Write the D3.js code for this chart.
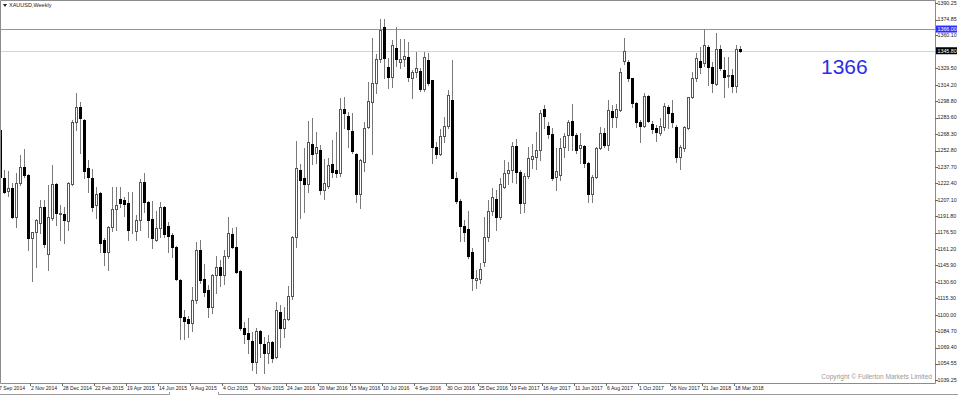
<!DOCTYPE html>
<html>
<head>
<meta charset="utf-8">
<script src="https://cdn.jsdelivr.net/npm/d3@7"></script>
<style>
html, body { margin: 0; padding: 0; background: #fff; overflow: hidden; }
svg { display: block; font-family: "Liberation Sans", Arial, sans-serif; }
</style>
</head>
<body>
<div id="chart"></div>
<script>
// XAUUSD weekly candles, first bar = week of 7 Sep 2014
const firstWeek = "2014-09-07";

const opens = [
  1272,1227,1215,1218,1191,1223,1238,1230,1171,1177,
  1185,1200,1157,1190,1222,1194,1194,1187,1222,1279,
  1293,1281,1237,1227,1202,1213,1170,1158,1182,1198,
  1208,1207,1204,1179,1178,1188,1224,1205,1189,1170,
  1181,1200,1183,1174,1163,1132,1098,1096,1092,1114,
  1160,1133,1123,1107,1137,1144,1137,1155,1175,1163,
  1141,1088,1083,1076,1056,1085,1073,1064,1075,1061,
  1103,1088,1096,1117,1172,1235,1227,1222,1259,1251,
  1253,1216,1220,1240,1235,1232,1292,1285,1271,1250,
  1212,1242,1275,1298,1316,1338,1368,1331,1321,1348,
  1335,1338,1340,1320,1326,1327,1310,1337,1319,1256,
  1250,1266,1276,1300,1227,1206,1183,1180,1158,1132,
  1133,1149,1172,1197,1208,1191,1219,1232,1235,1257,
  1233,1204,1229,1245,1247,1253,1292,1276,1268,1228,
  1230,1256,1267,1280,1267,1255,1257,1241,1212,1228,
  1255,1269,1258,1290,1284,1291,1336,1335,1320,1297,
  1279,1276,1304,1278,1274,1269,1275,1293,1288,1275,
  1247,1255,1274,1303,1320,1336,1334,1349,1331,1315,
  1347,1328,1322,1323,1313,1347
];
const highs = [
  1275,1235,1234,1223,1232,1249,1254,1231,1177,1189,
  1207,1207,1221,1239,1223,1202,1200,1224,1281,1306,
  1298,1282,1244,1236,1219,1214,1171,1183,1219,1219,
  1219,1210,1214,1214,1193,1226,1232,1206,1206,1197,
  1205,1201,1186,1176,1164,1133,1104,1099,1126,1168,
  1170,1147,1128,1138,1155,1151,1160,1191,1181,1182,
  1142,1093,1097,1084,1088,1086,1079,1081,1076,1112,
  1109,1107,1127,1173,1262,1240,1255,1280,1283,1270,
  1258,1245,1246,1263,1270,1302,1303,1289,1288,1251,
  1245,1279,1317,1358,1343,1375,1375,1339,1356,1368,
  1357,1357,1354,1328,1345,1330,1345,1344,1319,1261,
  1273,1284,1309,1337,1233,1208,1188,1197,1162,1142,
  1148,1191,1207,1218,1216,1227,1244,1242,1261,1264,
  1235,1232,1256,1259,1270,1291,1295,1279,1274,1255,
  1265,1269,1281,1296,1269,1269,1258,1242,1230,1256,
  1275,1274,1300,1295,1296,1330,1358,1337,1320,1298,
  1281,1306,1305,1280,1277,1283,1297,1295,1300,1277,
  1258,1276,1303,1326,1344,1349,1366,1351,1335,1362,
  1351,1340,1340,1329,1351,1350
];
const lows = [
  1227,1213,1211,1190,1182,1221,1228,1160,1131,1144,
  1176,1163,1142,1188,1184,1170,1167,1179,1221,1272,
  1251,1227,1214,1197,1190,1158,1146,1142,1178,1179,
  1200,1192,1170,1176,1170,1179,1196,1172,1162,1169,
  1172,1172,1158,1154,1132,1077,1077,1079,1085,1111,
  1130,1117,1098,1102,1120,1127,1129,1153,1162,1139,
  1086,1074,1064,1049,1046,1061,1046,1055,1056,1060,
  1070,1079,1095,1115,1163,1190,1196,1214,1240,1241,
  1212,1208,1218,1228,1228,1229,1274,1256,1251,1205,
  1199,1234,1274,1250,1306,1335,1320,1311,1312,1332,
  1330,1332,1318,1302,1321,1308,1308,1314,1241,1246,
  1249,1261,1274,1227,1204,1169,1169,1153,1123,1125,
  1130,1145,1169,1193,1179,1189,1218,1222,1224,1223,
  1195,1196,1227,1237,1236,1244,1274,1265,1225,1216,
  1225,1247,1253,1253,1251,1241,1238,1205,1205,1227,
  1254,1256,1253,1275,1275,1290,1333,1318,1293,1275,
  1261,1275,1279,1269,1262,1267,1272,1274,1275,1242,
  1236,1252,1273,1302,1318,1325,1332,1314,1307,1314,
  1328,1303,1312,1307,1307,1345
];
const closes = [
  1228,1214,1218,1191,1223,1238,1230,1171,1177,1188,
  1200,1166,1191,1222,1195,1195,1188,1223,1279,1293,
  1283,1234,1228,1200,1212,1167,1158,1182,1198,1202,
  1204,1203,1179,1178.5,1188,1224,1205,1188,1171,1181,
  1200,1175,1173,1163,1133,1098,1094,1092,1114,1160,
  1132,1121,1107,1137,1144,1137,1155,1176,1163,1140,
  1088,1082,1077,1056,1085,1074,1064,1075,1060,1104,
  1088,1096,1117,1172,1237,1225,1222,1261,1250,1256,
  1216,1223,1239,1233,1232,1292,1288,1273,1252,1212,
  1244,1274,1299,1316,1338,1365,1339,1321,1351,1338,
  1338,1341,1321,1326,1330,1310,1340,1316,1256,1250,
  1266,1276,1305,1227,1206,1183,1177,1155,1134,1134,
  1143,1172,1197,1210,1191,1222,1232,1235,1257,1233,
  1204,1229,1246,1248,1253,1288,1285,1268,1227,1234,
  1255,1266,1279,1267,1253,1258,1241,1212,1228,1255,
  1269,1258,1291,1284,1292,1326,1346,1320,1297,1279,
  1276,1304,1280,1273,1270,1276,1294,1288,1279,1247,
  1256,1275,1303,1320,1339,1331,1351,1331,1316,1347,
  1330,1321,1323,1313,1347,1346
];

const priceTicks = ["1390.25","1374.85","1360.10","1329.50","1314.20","1298.80","1283.60",
  "1268.30","1252.80","1237.70","1222.40","1207.10","1191.80","1176.50","1161.20","1145.90",
  "1130.60","1115.30","1100.00","1084.70","1069.40","1054.55","1039.25"];

const dateTicks = ["7 Sep 2014","2 Nov 2014","28 Dec 2014","22 Feb 2015","19 Apr 2015",
  "14 Jun 2015","9 Aug 2015","4 Oct 2015","29 Nov 2015","24 Jan 2016","20 Mar 2016",
  "15 May 2016","10 Jul 2016","4 Sep 2016","30 Oct 2016","25 Dec 2016","19 Feb 2017",
  "16 Apr 2017","11 Jun 2017","6 Aug 2017","1 Oct 2017","26 Nov 2017","21 Jan 2018","18 Mar 2018"];

const levelPrice = 1366.00;
const levelLabel = "1366";
const bidPrice = 1345.80;

const width = 958, height = 396;
const plotRight = 935, plotBottom = 383;

const start = d3.utcParse("%Y-%m-%d")(firstWeek);
const candles = opens.map((o, i) => ({
  date: d3.utcWeek.offset(start, i),
  open: o, high: highs[i], low: lows[i], close: closes[i]
}));

// 4 px per weekly bar
const x = d3.scaleUtc()
  .domain([start, d3.utcWeek.offset(start, 100)])
  .range([0, 400]);
const y = d3.scaleLinear().domain([1039.25, 1390.25]).range([380, 3]);

const svg = d3.select("#chart").append("svg")
  .attr("width", width).attr("height", height);

svg.append("rect").attr("width", width).attr("height", height).attr("fill", "#fff");

// level lines
svg.append("line")
  .attr("x1", 0).attr("x2", plotRight)
  .attr("y1", Math.round(y(levelPrice)) + 0.5).attr("y2", Math.round(y(levelPrice)) + 0.5)
  .attr("stroke", "#8a8af0");
svg.append("line")
  .attr("x1", 0).attr("x2", plotRight)
  .attr("y1", Math.round(y(bidPrice)) + 0.5).attr("y2", Math.round(y(bidPrice)) + 0.5)
  .attr("stroke", "#d4d4d4");

// candles
const cx = d => Math.round(x(d.date));
const g = svg.append("g");
g.selectAll("line.wick")
  .data(candles)
  .join("line")
  .attr("class", "wick")
  .attr("x1", d => cx(d) + 0.5).attr("x2", d => cx(d) + 0.5)
  .attr("y1", d => Math.round(y(d.high))).attr("y2", d => Math.round(y(d.low)) + 1)
  .attr("stroke", "#7a7a7a");
g.selectAll("rect.body")
  .data(candles)
  .join("rect")
  .attr("class", "body")
  .attr("x", d => cx(d) - 0.5)
  .attr("y", d => Math.round(y(Math.max(d.open, d.close))) + 0.5)
  .attr("width", 2)
  .attr("height", d => Math.max(0, Math.round(y(Math.min(d.open, d.close))) - Math.round(y(Math.max(d.open, d.close)))))
  .attr("fill", d => d.close >= d.open ? "#fff" : "#000")
  .attr("stroke", d => d.close >= d.open ? "#555" : "#000");

// frame
svg.append("path")
  .attr("d", `M0.5,${plotBottom + 0.5}V0.5H${plotRight + 0.5}V${plotBottom + 0.5}H0.5`)
  .attr("fill", "none").attr("stroke", "#8c8c8c");

// right price axis
const yAxis = svg.append("g");
yAxis.selectAll("line")
  .data(priceTicks)
  .join("line")
  .attr("x1", plotRight).attr("x2", plotRight + 3)
  .attr("y1", d => Math.round(y(+d)) + 0.5).attr("y2", d => Math.round(y(+d)) + 0.5)
  .attr("stroke", "#666");
yAxis.selectAll("text")
  .data(priceTicks)
  .join("text")
  .attr("x", plotRight + 2.5).attr("y", d => y(+d))
  .attr("dy", "0.35em")
  .attr("font-size", 5.3)
  .attr("fill", "#222")
  .text(d => d);

// highlighted prices
[[levelPrice, "#2f2fff"], [bidPrice, "#000"]].forEach(([p, c]) => {
  const py = y(p);
  svg.append("rect")
    .attr("x", plotRight + 1).attr("y", py - 3.5)
    .attr("width", 21).attr("height", 7)
    .attr("fill", c);
  svg.append("text")
    .attr("x", plotRight + 2.5).attr("y", py)
    .attr("dy", "0.35em")
    .attr("font-size", 5.3)
    .attr("fill", "#fff")
    .text(p.toFixed(2));
});

// bottom date axis
const parseTick = d3.utcParse("%d %b %Y");
const xAxis = svg.append("g");
xAxis.selectAll("line")
  .data(dateTicks)
  .join("line")
  .attr("x1", d => Math.round(x(parseTick(d))) - 1.5).attr("x2", d => Math.round(x(parseTick(d))) - 1.5)
  .attr("y1", plotBottom).attr("y2", plotBottom + 3)
  .attr("stroke", "#666");
xAxis.selectAll("text")
  .data(dateTicks)
  .join("text")
  .attr("x", d => x(parseTick(d)) - 1)
  .attr("y", plotBottom + 5)
  .attr("dy", "0.35em")
  .attr("font-size", 5.1)
  .attr("fill", "#222")
  .text(d => d);

// bottom tab strip
svg.append("path")
  .attr("d", "M0,394.5H169.5V392M218.5,392V394.5H958")
  .attr("fill", "none").attr("stroke", "#9a9a9a");

// title
svg.append("path").attr("d", "M3,4L7,4L5,7Z").attr("fill", "#222");
svg.append("text")
  .attr("x", 9).attr("y", 5.5)
  .attr("dy", "0.35em")
  .attr("font-size", 5.5)
  .attr("fill", "#222")
  .text("XAUUSD,Weekly");

// big level label
svg.append("text")
  .attr("x", 821).attr("y", 73.5)
  .attr("font-size", 21)
  .attr("fill", "#2d2de6")
  .text(levelLabel);

// copyright
svg.append("text")
  .attr("x", 932).attr("y", 377)
  .attr("dy", "0.35em")
  .attr("text-anchor", "end")
  .attr("font-size", 6.6)
  .attr("fill", "#999")
  .text("Copyright © Fullerton Markets Limited");
</script>
</body>
</html>
